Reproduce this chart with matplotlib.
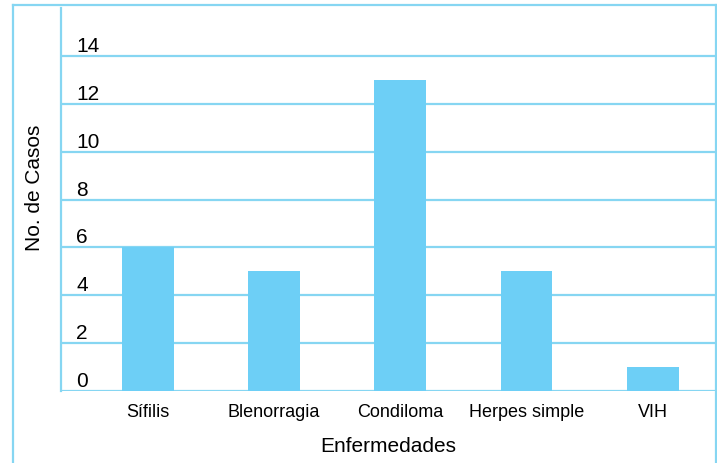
import matplotlib
matplotlib.use("Agg")
import matplotlib.pyplot as plt
from matplotlib.lines import Line2D

plt.rcParams['font.family'] = ['Liberation Sans Narrow', 'Liberation Sans', 'DejaVu Sans']

enfermedades = ["Sífilis", "Blenorragia", "Condiloma", "Herpes simple", "VIH"]
casos = [6, 5, 13, 5, 1]
y_ticks = [0, 2, 4, 6, 8, 10, 12, 14]

bar_color = "#6dcff6"
line_color = "#86d6f2"

fig = plt.figure(figsize=(7.17, 4.63), dpi=100)
ax = fig.add_axes([0.0851, 0.1555, 0.9135, 0.8272])

x = list(range(len(enfermedades)))
ax.bar(x, casos, width=0.41, color=bar_color, zorder=3)

ax.set_xlim(-0.687, 4.5)
ax.set_ylim(0, 16)

ax.set_yticks(y_ticks)
ax.set_yticklabels([str(v) for v in y_ticks])
ax.grid(axis='y', color=line_color, linewidth=1.6, zorder=1)
ax.tick_params(axis='y', length=0, pad=-11, labelsize=15)
for lbl in ax.get_yticklabels():
    lbl.set_horizontalalignment('left')
    lbl.set_verticalalignment('bottom')

ax.set_xticks(x)
ax.set_xticklabels(enfermedades)
ax.tick_params(axis='x', length=0, pad=9, labelsize=13)

for side in ['top', 'right', 'bottom']:
    ax.spines[side].set_visible(False)
ax.spines['left'].set_color(line_color)
ax.spines['left'].set_linewidth(1.6)

ax.set_xlabel("Enfermedades", fontsize=15, labelpad=12)
ax.set_ylabel("No. de Casos", fontsize=15)
ax.yaxis.set_label_coords(-0.026, 0.53)

# outer frame: left, top and right edges
fl, ft, fr = 12.5 / 717, 1 - 4.5 / 463, 715.5 / 717
for xs, ys in [([fl, fl], [0, ft]), ([fl, fr], [ft, ft]), ([fr, fr], [ft, 0])]:
    fig.add_artist(Line2D(xs, ys, color=line_color, linewidth=1.6,
                          transform=fig.transFigure))

fig.savefig("out.png", dpi=100)
